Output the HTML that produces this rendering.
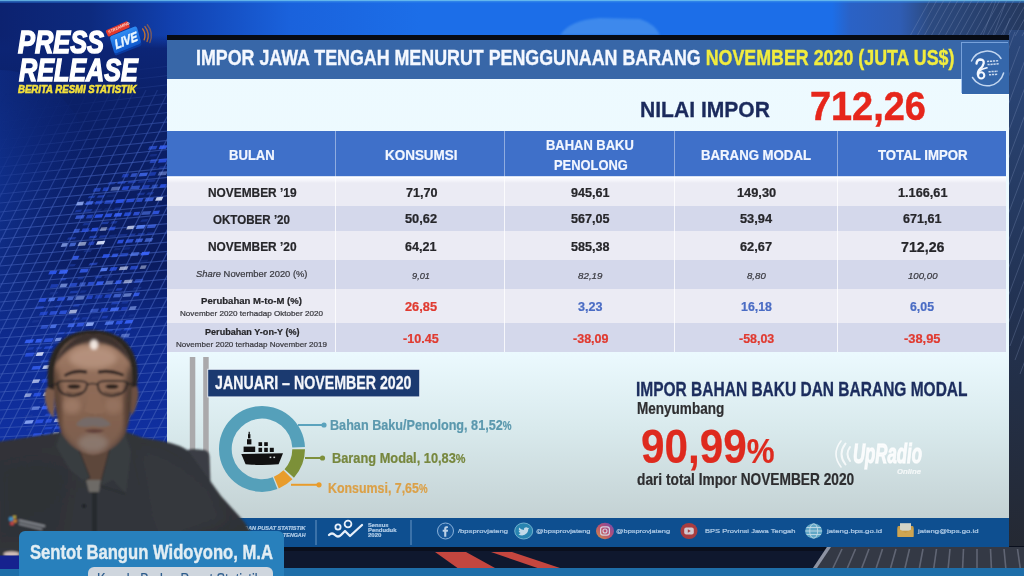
<!DOCTYPE html>
<html lang="id">
<head>
<meta charset="utf-8">
<title>Press Release BPS - Impor Jawa Tengah November 2020</title>
<style>
html,body{margin:0;padding:0}
body{width:1024px;height:576px;overflow:hidden;background:#0c2270;font-family:"Liberation Sans",sans-serif;position:relative}
#stage{position:absolute;left:0;top:0;width:1024px;height:576px;overflow:hidden}
.abs{position:absolute}
svg{position:absolute;left:0;top:0;overflow:visible}
.t{position:absolute;white-space:nowrap;line-height:1;font-weight:700;transform-origin:0 0;display:block;-webkit-text-stroke-width:.22px}
#fx{position:absolute;left:-8px;top:-8px;width:1040px;height:592px;filter:blur(.55px)}
#fxi{position:absolute;left:8px;top:8px;width:1024px;height:576px}
#bg{left:-8px;top:-8px;width:1040px;height:592px;background:linear-gradient(90deg,#0c2270 0,#0c2270 8px,#0d2a7e 98px,#1140ae 178px,#1a62dc 298px,#1c6ee8 428px,#1c6ee8 840px,#2a62c6 858px,#2f5db4 908px,#2c4a80 938px,#25395f 1032px)}
#slide{left:167px;top:35px;width:842px;height:512px;background:linear-gradient(180deg,#eefaff 0,#ebf9fe 318px,#d9eaed 392px,#c4d2d4 482px)}
#slide .topb{left:0;top:0;width:842px;height:5px;background:#070b14}
#slide .title{left:0;top:5px;width:842px;height:38.5px;background:#3867a8}
#slide .logo{left:794.7px;top:7.7px;width:47px;height:51px;background:#3567ab;box-shadow:-1px -1px 0 0 rgba(140,180,235,.75),0 1px 0 0 rgba(255,255,255,.5)}
.row{position:absolute;left:0;width:839px}
.hd{background:#3f70c9}
.r1{background:#ebebf4}
.r1f{background:linear-gradient(180deg,#fbfbfe 0,#f6f6fb 3px,#ebebf4 6px)}
.r2{background:#d4d8eb}
.vs{position:absolute;top:96px;width:1.1px;height:221px;background:linear-gradient(180deg,rgba(255,255,255,.42) 0,rgba(255,255,255,.42) 46px,rgba(255,255,255,.8) 46px)}
#foot{left:0;top:482.5px;width:842px;height:29.5px;background:#0e4f90}
#l3{left:18.5px;top:531.2px;width:265.5px;height:50px;background:#2880bc;border-radius:6px 6px 0 0}
#l3b{left:88px;top:567px;width:185px;height:20px;background:#cfd6de;border-radius:6px}

</style>
</head>
<body>
<div id="stage"><div id="fx"><div id="fxi">
<div id="bg" class="abs"></div>
<svg id="bgsvg" width="1024" height="576" viewBox="0 0 1024 576">
<defs>
<linearGradient id="gl" x1="0" y1="0" x2="0" y2="1"><stop offset="0" stop-color="#0b2170"/><stop offset=".18" stop-color="#0c2679"/><stop offset=".45" stop-color="#0f2f96"/><stop offset=".75" stop-color="#1233a8"/><stop offset="1" stop-color="#1336ae"/></linearGradient>
<linearGradient id="gfade" x1="0" y1="0" x2="1" y2="1"><stop offset="0" stop-color="#fff" stop-opacity="0"/><stop offset=".28" stop-color="#fff" stop-opacity="0"/><stop offset=".5" stop-color="#fff" stop-opacity="1"/></linearGradient>
<linearGradient id="gfade2" gradientUnits="userSpaceOnUse" x1="25" y1="80" x2="118" y2="228"><stop offset="0" stop-color="#fff" stop-opacity="0"/><stop offset=".28" stop-color="#fff" stop-opacity=".08"/><stop offset=".5" stop-color="#fff" stop-opacity=".55"/><stop offset=".7" stop-color="#fff" stop-opacity="1"/></linearGradient>
<mask id="gm" maskUnits="userSpaceOnUse" x="0" y="0" width="170" height="576"><rect x="0" y="60" width="170" height="520" fill="url(#gfade2)"/></mask>
<clipPath id="lc"><rect x="0" y="0" width="168" height="576"/></clipPath>
<linearGradient id="gr" x1="0" y1="0" x2="0" y2="1"><stop offset="0" stop-color="#2b487c"/><stop offset=".5" stop-color="#223252"/><stop offset="1" stop-color="#25282f"/></linearGradient>
<filter id="b1"><feGaussianBlur stdDeviation=".6"/></filter>
<filter id="b2"><feGaussianBlur stdDeviation="1.2"/></filter>
<filter id="b4"><feGaussianBlur stdDeviation="4"/></filter>
</defs>
<linearGradient id="gl2" x1="0" y1="0" x2="0" y2="1"><stop offset="0" stop-color="#0c2474" stop-opacity="0"/><stop offset=".025" stop-color="#0c2474" stop-opacity=".95"/><stop offset=".12" stop-color="#0b2068" stop-opacity="1"/><stop offset=".42" stop-color="#0a1b5e"/><stop offset=".55" stop-color="#0e2a8c"/><stop offset=".75" stop-color="#1030a2"/><stop offset="1" stop-color="#1030a2"/></linearGradient>
<radialGradient id="glow" cx="0" cy=".5" r="1"><stop offset="0" stop-color="#1746ba"/><stop offset=".45" stop-color="#12389e" stop-opacity=".8"/><stop offset="1" stop-color="#0e2c8c" stop-opacity="0"/></radialGradient>
<rect x="0" y="35" width="168" height="541" fill="url(#gl2)"/>
<ellipse cx="0" cy="200" rx="100" ry="130" fill="url(#glow)" opacity=".9"/>
<g clip-path="url(#lc)"><g mask="url(#gm)" stroke="#4260b8" stroke-width="1.15" stroke-opacity=".62" fill="none">
<line x1="0" y1="86.0" x2="170" y2="66.0"/>
<line x1="0" y1="95.0" x2="170" y2="75.3"/>
<line x1="0" y1="104.0" x2="170" y2="84.5"/>
<line x1="0" y1="113.0" x2="170" y2="93.8"/>
<line x1="0" y1="122.0" x2="170" y2="103.0"/>
<line x1="0" y1="131.0" x2="170" y2="112.3"/>
<line x1="0" y1="140.0" x2="170" y2="121.6"/>
<line x1="0" y1="149.0" x2="170" y2="130.8"/>
<line x1="0" y1="158.0" x2="170" y2="140.1"/>
<line x1="0" y1="167.0" x2="170" y2="149.3"/>
<line x1="0" y1="176.0" x2="170" y2="158.6"/>
<line x1="0" y1="185.0" x2="170" y2="167.9"/>
<line x1="0" y1="194.0" x2="170" y2="177.1"/>
<line x1="0" y1="203.0" x2="170" y2="186.4"/>
<line x1="0" y1="212.0" x2="170" y2="195.6"/>
<line x1="0" y1="221.0" x2="170" y2="204.9"/>
<line x1="0" y1="230.0" x2="170" y2="214.2"/>
<line x1="0" y1="239.0" x2="170" y2="223.4"/>
<line x1="0" y1="248.0" x2="170" y2="232.7"/>
<line x1="0" y1="257.0" x2="170" y2="241.9"/>
<line x1="0" y1="266.0" x2="170" y2="251.2"/>
<line x1="0" y1="275.0" x2="170" y2="260.5"/>
<line x1="0" y1="284.0" x2="170" y2="269.7"/>
<line x1="0" y1="293.0" x2="170" y2="279.0"/>
<line x1="0" y1="302.0" x2="170" y2="288.2"/>
<line x1="0" y1="311.0" x2="170" y2="297.5"/>
<line x1="0" y1="320.0" x2="170" y2="306.8"/>
<line x1="0" y1="329.0" x2="170" y2="316.0"/>
<line x1="0" y1="338.0" x2="170" y2="325.3"/>
<line x1="0" y1="347.0" x2="170" y2="334.5"/>
<line x1="0" y1="356.0" x2="170" y2="343.8"/>
<line x1="0" y1="365.0" x2="170" y2="353.1"/>
<line x1="0" y1="374.0" x2="170" y2="362.3"/>
<line x1="0" y1="383.0" x2="170" y2="371.6"/>
<line x1="0" y1="392.0" x2="170" y2="380.8"/>
<line x1="0" y1="401.0" x2="170" y2="390.1"/>
<line x1="0" y1="410.0" x2="170" y2="399.4"/>
<line x1="0" y1="419.0" x2="170" y2="408.6"/>
<line x1="0" y1="428.0" x2="170" y2="417.9"/>
<line x1="0" y1="437.0" x2="170" y2="427.1"/>
<line x1="0" y1="446.0" x2="170" y2="436.4"/>
<line x1="0" y1="455.0" x2="170" y2="445.7"/>
<line x1="0" y1="464.0" x2="170" y2="454.9"/>
<line x1="0" y1="473.0" x2="170" y2="464.2"/>
<line x1="0" y1="482.0" x2="170" y2="473.4"/>
<line x1="0" y1="491.0" x2="170" y2="482.7"/>
<line x1="0" y1="500.0" x2="170" y2="492.0"/>
<line x1="0" y1="509.0" x2="170" y2="501.2"/>
<line x1="0" y1="518.0" x2="170" y2="510.5"/>
<line x1="0" y1="527.0" x2="170" y2="519.7"/>
<line x1="0" y1="536.0" x2="170" y2="529.0"/>
<line x1="0" y1="545.0" x2="170" y2="538.3"/>
<line x1="0" y1="554.0" x2="170" y2="547.5"/>
<line x1="0" y1="563.0" x2="170" y2="556.8"/>
<line x1="0" y1="572.0" x2="170" y2="566.0"/>
<line x1="0" y1="581.0" x2="170" y2="575.3"/>
<line x1="0" y1="590.0" x2="170" y2="584.6"/>
<line x1="0" y1="599.0" x2="170" y2="593.8"/>
<line x1="-253.0" y1="560" x2="-15.0" y2="90"/>
<line x1="-241.5" y1="560" x2="-3.5" y2="90"/>
<line x1="-230.0" y1="560" x2="8.0" y2="90"/>
<line x1="-218.5" y1="560" x2="19.5" y2="90"/>
<line x1="-207.0" y1="560" x2="31.0" y2="90"/>
<line x1="-195.5" y1="560" x2="42.5" y2="90"/>
<line x1="-184.0" y1="560" x2="54.0" y2="90"/>
<line x1="-172.5" y1="560" x2="65.5" y2="90"/>
<line x1="-161.0" y1="560" x2="77.0" y2="90"/>
<line x1="-149.5" y1="560" x2="88.5" y2="90"/>
<line x1="-138.0" y1="560" x2="100.0" y2="90"/>
<line x1="-126.5" y1="560" x2="111.5" y2="90"/>
<line x1="-115.0" y1="560" x2="123.0" y2="90"/>
<line x1="-103.5" y1="560" x2="134.5" y2="90"/>
<line x1="-92.0" y1="560" x2="146.0" y2="90"/>
<line x1="-80.5" y1="560" x2="157.5" y2="90"/>
<line x1="-69.0" y1="560" x2="169.0" y2="90"/>
<line x1="-57.5" y1="560" x2="180.5" y2="90"/>
<line x1="-46.0" y1="560" x2="192.0" y2="90"/>
<line x1="-34.5" y1="560" x2="203.5" y2="90"/>
<line x1="-23.0" y1="560" x2="215.0" y2="90"/>
<line x1="-11.5" y1="560" x2="226.5" y2="90"/>
<line x1="0.0" y1="560" x2="238.0" y2="90"/>
<line x1="11.5" y1="560" x2="249.5" y2="90"/>
<line x1="23.0" y1="560" x2="261.0" y2="90"/>
<line x1="34.5" y1="560" x2="272.5" y2="90"/>
<line x1="46.0" y1="560" x2="284.0" y2="90"/>
<line x1="57.5" y1="560" x2="295.5" y2="90"/>
<line x1="69.0" y1="560" x2="307.0" y2="90"/>
<line x1="80.5" y1="560" x2="318.5" y2="90"/>
<line x1="92.0" y1="560" x2="330.0" y2="90"/>
<line x1="103.5" y1="560" x2="341.5" y2="90"/>
<line x1="115.0" y1="560" x2="353.0" y2="90"/>
<line x1="126.5" y1="560" x2="364.5" y2="90"/>
<line x1="138.0" y1="560" x2="376.0" y2="90"/>
<line x1="149.5" y1="560" x2="387.5" y2="90"/>
<line x1="161.0" y1="560" x2="399.0" y2="90"/>
<line x1="172.5" y1="560" x2="410.5" y2="90"/>
<line x1="184.0" y1="560" x2="422.0" y2="90"/>
<line x1="195.5" y1="560" x2="433.5" y2="90"/>
<line x1="207.0" y1="560" x2="445.0" y2="90"/>
<line x1="218.5" y1="560" x2="456.5" y2="90"/>
</g>
<g filter="url(#b1)">
<path d="M158.6 149.2 l7.4 -0.4 l1.6 -3.6 l-7.4 0.4 Z" fill="#3b66ff" opacity="0.81"/>
<path d="M148.0 149.8 l8.0 -0.5 l1.6 -3.6 l-8.0 0.5 Z" fill="#3b66ff" opacity="0.56"/>
<path d="M149.0 156.6 l7.1 -0.4 l1.6 -2.4 l-7.1 0.4 Z" fill="#2f58e0" opacity="0.25"/>
<path d="M157.9 162.7 l8.1 -0.5 l1.6 -3.6 l-8.1 0.5 Z" fill="#2f58f0" opacity="0.79"/>
<path d="M149.4 163.2 l5.9 -0.4 l1.6 -3.6 l-5.9 0.4 Z" fill="#3b66ff" opacity="0.51"/>
<path d="M158.2 169.0 l7.8 -0.5 l1.6 -2.4 l-7.8 0.5 Z" fill="#2f58e0" opacity="0.29"/>
<path d="M149.2 169.6 l6.4 -0.4 l1.6 -2.4 l-6.4 0.4 Z" fill="#24409e" opacity="0.38"/>
<path d="M157.6 175.4 l8.4 -0.5 l1.6 -3.6 l-8.4 0.5 Z" fill="#9db8ff" opacity="0.46"/>
<path d="M149.0 175.9 l6.0 -0.4 l1.6 -3.6 l-6.0 0.4 Z" fill="#2f58f0" opacity="0.48"/>
<path d="M138.5 176.5 l8.0 -0.5 l1.6 -3.6 l-8.0 0.5 Z" fill="#4a74ff" opacity="0.72"/>
<path d="M130.2 177.0 l5.7 -0.3 l1.6 -3.6 l-5.7 0.3 Z" fill="#4a74ff" opacity="0.59"/>
<path d="M121.5 177.6 l6.1 -0.4 l1.6 -3.6 l-6.1 0.4 Z" fill="#2f58f0" opacity="0.53"/>
<path d="M146.8 182.3 l7.7 -0.5 l1.6 -2.4 l-7.7 0.5 Z" fill="#3b66ff" opacity="0.25"/>
<path d="M137.6 182.9 l6.6 -0.4 l1.6 -2.4 l-6.6 0.4 Z" fill="#2f58e0" opacity="0.25"/>
<path d="M127.4 183.5 l7.6 -0.5 l1.6 -2.4 l-7.6 0.5 Z" fill="#2f58e0" opacity="0.49"/>
<path d="M117.0 184.1 l7.8 -0.5 l1.6 -2.4 l-7.8 0.5 Z" fill="#3b66ff" opacity="0.49"/>
<path d="M107.4 184.7 l7.0 -0.4 l1.6 -2.4 l-7.0 0.4 Z" fill="#3b66ff" opacity="0.31"/>
<path d="M159.2 187.8 l5.8 -0.3 l1.6 -3.6 l-5.8 0.3 Z" fill="#2f58f0" opacity="0.81"/>
<path d="M151.0 188.3 l5.6 -0.3 l1.6 -3.6 l-5.6 0.3 Z" fill="#4a74ff" opacity="0.49"/>
<path d="M141.4 188.9 l7.0 -0.4 l1.6 -3.6 l-7.0 0.4 Z" fill="#2f58f0" opacity="0.52"/>
<path d="M130.5 189.5 l8.3 -0.5 l1.6 -3.6 l-8.3 0.5 Z" fill="#4a74ff" opacity="0.59"/>
<path d="M121.5 190.1 l6.4 -0.4 l1.6 -3.6 l-6.4 0.4 Z" fill="#2f58f0" opacity="0.73"/>
<path d="M110.4 190.7 l8.5 -0.5 l1.6 -3.6 l-8.5 0.5 Z" fill="#9db8ff" opacity="0.47"/>
<path d="M102.2 191.2 l5.6 -0.3 l1.6 -3.6 l-5.6 0.3 Z" fill="#2f58f0" opacity="0.60"/>
<path d="M92.7 191.8 l6.9 -0.4 l1.6 -3.6 l-6.9 0.4 Z" fill="#3b66ff" opacity="0.48"/>
<path d="M146.3 194.8 l6.1 -0.4 l1.6 -2.4 l-6.1 0.4 Z" fill="#2f58e0" opacity="0.39"/>
<path d="M136.4 195.4 l7.4 -0.4 l1.6 -2.4 l-7.4 0.4 Z" fill="#3b66ff" opacity="0.28"/>
<path d="M106.1 197.2 l8.3 -0.5 l1.6 -2.4 l-8.3 0.5 Z" fill="#24409e" opacity="0.29"/>
<path d="M96.6 197.8 l6.9 -0.4 l1.6 -2.4 l-6.9 0.4 Z" fill="#3b66ff" opacity="0.43"/>
<path d="M87.7 198.3 l6.3 -0.4 l1.6 -2.4 l-6.3 0.4 Z" fill="#2f58e0" opacity="0.48"/>
<path d="M155.1 200.8 l6.6 -0.4 l1.6 -3.6 l-6.6 0.4 Z" fill="#dfe8ff" opacity="0.88"/>
<path d="M144.4 201.5 l8.1 -0.5 l1.6 -3.6 l-8.1 0.5 Z" fill="#4a74ff" opacity="0.67"/>
<path d="M136.1 202.0 l5.7 -0.3 l1.6 -3.6 l-5.7 0.3 Z" fill="#3b66ff" opacity="0.61"/>
<path d="M125.7 202.6 l7.8 -0.5 l1.6 -3.6 l-7.8 0.5 Z" fill="#2f58f0" opacity="0.77"/>
<path d="M115.1 203.2 l8.0 -0.5 l1.6 -3.6 l-8.0 0.5 Z" fill="#2f58f0" opacity="0.89"/>
<path d="M104.1 203.9 l8.4 -0.5 l1.6 -3.6 l-8.4 0.5 Z" fill="#3b66ff" opacity="0.53"/>
<path d="M94.6 204.5 l6.9 -0.4 l1.6 -3.6 l-6.9 0.4 Z" fill="#2f58f0" opacity="0.60"/>
<path d="M85.1 205.0 l6.9 -0.4 l1.6 -3.6 l-6.9 0.4 Z" fill="#4a74ff" opacity="0.74"/>
<path d="M76.0 205.6 l6.5 -0.4 l1.6 -3.6 l-6.5 0.4 Z" fill="#9db8ff" opacity="0.78"/>
<path d="M153.5 207.7 l6.6 -0.4 l1.6 -2.4 l-6.6 0.4 Z" fill="#24409e" opacity="0.47"/>
<path d="M113.5 210.1 l6.6 -0.4 l1.6 -2.4 l-6.6 0.4 Z" fill="#2f58e0" opacity="0.32"/>
<path d="M103.3 210.7 l7.7 -0.5 l1.6 -2.4 l-7.7 0.5 Z" fill="#24409e" opacity="0.29"/>
<path d="M93.6 211.3 l7.0 -0.4 l1.6 -2.4 l-7.0 0.4 Z" fill="#24409e" opacity="0.33"/>
<path d="M83.2 211.9 l7.8 -0.5 l1.6 -2.4 l-7.8 0.5 Z" fill="#2f58e0" opacity="0.43"/>
<path d="M74.5 212.4 l6.1 -0.4 l1.6 -2.4 l-6.1 0.4 Z" fill="#2f58e0" opacity="0.41"/>
<path d="M152.2 214.5 l6.2 -0.4 l1.6 -3.6 l-6.2 0.4 Z" fill="#3b66ff" opacity="0.73"/>
<path d="M141.2 215.1 l8.5 -0.5 l1.6 -3.6 l-8.5 0.5 Z" fill="#5d86ff" opacity="0.52"/>
<path d="M132.8 215.6 l5.8 -0.3 l1.6 -3.6 l-5.8 0.3 Z" fill="#3b66ff" opacity="0.67"/>
<path d="M123.4 216.2 l6.7 -0.4 l1.6 -3.6 l-6.7 0.4 Z" fill="#2f58f0" opacity="0.75"/>
<path d="M113.5 216.8 l7.3 -0.4 l1.6 -3.6 l-7.3 0.4 Z" fill="#3b66ff" opacity="0.86"/>
<path d="M104.4 217.3 l6.6 -0.4 l1.6 -3.6 l-6.6 0.4 Z" fill="#2f58f0" opacity="0.84"/>
<path d="M94.2 218.0 l7.6 -0.5 l1.6 -3.6 l-7.6 0.5 Z" fill="#2f58f0" opacity="0.88"/>
<path d="M85.8 218.5 l5.8 -0.3 l1.6 -3.6 l-5.8 0.3 Z" fill="#2f58f0" opacity="0.60"/>
<path d="M74.9 219.1 l8.4 -0.5 l1.6 -3.6 l-8.4 0.5 Z" fill="#4a74ff" opacity="0.64"/>
<path d="M140.2 221.9 l6.6 -0.4 l1.6 -2.4 l-6.6 0.4 Z" fill="#2f58e0" opacity="0.30"/>
<path d="M110.3 223.7 l5.8 -0.3 l1.6 -2.4 l-5.8 0.3 Z" fill="#2f58e0" opacity="0.40"/>
<path d="M101.2 224.3 l6.5 -0.4 l1.6 -2.4 l-6.5 0.4 Z" fill="#3b66ff" opacity="0.39"/>
<path d="M82.4 225.4 l6.4 -0.4 l1.6 -2.4 l-6.4 0.4 Z" fill="#2f58e0" opacity="0.34"/>
<path d="M146.6 228.3 l8.4 -0.5 l1.6 -3.6 l-8.4 0.5 Z" fill="#4a74ff" opacity="0.64"/>
<path d="M135.7 228.9 l8.3 -0.5 l1.6 -3.6 l-8.3 0.5 Z" fill="#5d86ff" opacity="0.87"/>
<path d="M126.2 229.5 l6.9 -0.4 l1.6 -3.6 l-6.9 0.4 Z" fill="#dfe8ff" opacity="0.73"/>
<path d="M108.4 230.6 l5.9 -0.4 l1.6 -3.6 l-5.9 0.4 Z" fill="#2f58f0" opacity="0.67"/>
<path d="M99.6 231.1 l6.2 -0.4 l1.6 -3.6 l-6.2 0.4 Z" fill="#dfe8ff" opacity="0.47"/>
<path d="M90.7 231.6 l6.3 -0.4 l1.6 -3.6 l-6.3 0.4 Z" fill="#2f58f0" opacity="0.89"/>
<path d="M81.1 232.2 l7.0 -0.4 l1.6 -3.6 l-7.0 0.4 Z" fill="#2f58f0" opacity="0.68"/>
<path d="M73.0 232.7 l5.5 -0.3 l1.6 -3.6 l-5.5 0.3 Z" fill="#4a74ff" opacity="0.58"/>
<path d="M146.1 235.0 l7.3 -0.4 l1.6 -2.4 l-7.3 0.4 Z" fill="#3b66ff" opacity="0.26"/>
<path d="M136.9 235.6 l6.6 -0.4 l1.6 -2.4 l-6.6 0.4 Z" fill="#2f58e0" opacity="0.40"/>
<path d="M128.8 236.1 l5.5 -0.3 l1.6 -2.4 l-5.5 0.3 Z" fill="#2f58e0" opacity="0.42"/>
<path d="M118.0 236.7 l8.2 -0.5 l1.6 -2.4 l-8.2 0.5 Z" fill="#3b66ff" opacity="0.25"/>
<path d="M108.2 237.3 l7.3 -0.4 l1.6 -2.4 l-7.3 0.4 Z" fill="#24409e" opacity="0.49"/>
<path d="M98.6 237.9 l6.9 -0.4 l1.6 -2.4 l-6.9 0.4 Z" fill="#3b66ff" opacity="0.35"/>
<path d="M88.5 238.5 l7.5 -0.5 l1.6 -2.4 l-7.5 0.5 Z" fill="#3b66ff" opacity="0.47"/>
<path d="M66.9 239.8 l8.0 -0.5 l1.6 -2.4 l-8.0 0.5 Z" fill="#3b66ff" opacity="0.36"/>
<path d="M144.3 241.9 l7.4 -0.4 l1.6 -3.6 l-7.4 0.4 Z" fill="#5d86ff" opacity="0.59"/>
<path d="M134.8 242.4 l6.9 -0.4 l1.6 -3.6 l-6.9 0.4 Z" fill="#4a74ff" opacity="0.67"/>
<path d="M125.1 243.0 l7.1 -0.4 l1.6 -3.6 l-7.1 0.4 Z" fill="#3b66ff" opacity="0.69"/>
<path d="M116.8 243.5 l5.7 -0.3 l1.6 -3.6 l-5.7 0.3 Z" fill="#2f58f0" opacity="0.82"/>
<path d="M96.0 244.8 l7.7 -0.5 l1.6 -3.6 l-7.7 0.5 Z" fill="#dfe8ff" opacity="0.90"/>
<path d="M87.8 245.3 l5.6 -0.3 l1.6 -3.6 l-5.6 0.3 Z" fill="#2f58f0" opacity="0.55"/>
<path d="M77.5 245.9 l7.6 -0.5 l1.6 -3.6 l-7.6 0.5 Z" fill="#dfe8ff" opacity="0.58"/>
<path d="M69.0 246.4 l5.9 -0.4 l1.6 -3.6 l-5.9 0.4 Z" fill="#5d86ff" opacity="0.64"/>
<path d="M60.7 246.9 l5.7 -0.3 l1.6 -3.6 l-5.7 0.3 Z" fill="#9db8ff" opacity="0.70"/>
<path d="M122.5 249.9 l6.7 -0.4 l1.6 -2.4 l-6.7 0.4 Z" fill="#2f58e0" opacity="0.25"/>
<path d="M113.4 250.5 l6.4 -0.4 l1.6 -2.4 l-6.4 0.4 Z" fill="#24409e" opacity="0.37"/>
<path d="M83.2 252.3 l7.4 -0.4 l1.6 -2.4 l-7.4 0.4 Z" fill="#24409e" opacity="0.48"/>
<path d="M140.5 255.6 l8.0 -0.5 l1.6 -3.6 l-8.0 0.5 Z" fill="#3b66ff" opacity="0.89"/>
<path d="M129.8 256.2 l8.1 -0.5 l1.6 -3.6 l-8.1 0.5 Z" fill="#5d86ff" opacity="0.63"/>
<path d="M119.5 256.8 l7.6 -0.5 l1.6 -3.6 l-7.6 0.5 Z" fill="#3b66ff" opacity="0.49"/>
<path d="M111.2 257.3 l5.8 -0.3 l1.6 -3.6 l-5.8 0.3 Z" fill="#3b66ff" opacity="0.72"/>
<path d="M101.9 257.9 l6.7 -0.4 l1.6 -3.6 l-6.7 0.4 Z" fill="#2f58f0" opacity="0.88"/>
<path d="M71.8 259.7 l6.0 -0.4 l1.6 -3.6 l-6.0 0.4 Z" fill="#3b66ff" opacity="0.76"/>
<path d="M138.6 262.4 l8.2 -0.5 l1.6 -2.4 l-8.2 0.5 Z" fill="#24409e" opacity="0.30"/>
<path d="M88.4 265.4 l8.0 -0.5 l1.6 -2.4 l-8.0 0.5 Z" fill="#3b66ff" opacity="0.45"/>
<path d="M68.8 266.6 l5.6 -0.3 l1.6 -2.4 l-5.6 0.3 Z" fill="#2f58e0" opacity="0.30"/>
<path d="M139.6 269.1 l5.6 -0.3 l1.6 -3.6 l-5.6 0.3 Z" fill="#dfe8ff" opacity="0.47"/>
<path d="M129.5 269.7 l7.5 -0.4 l1.6 -3.6 l-7.5 0.4 Z" fill="#2f58f0" opacity="0.64"/>
<path d="M118.7 270.3 l8.2 -0.5 l1.6 -3.6 l-8.2 0.5 Z" fill="#dfe8ff" opacity="0.64"/>
<path d="M109.2 270.9 l6.9 -0.4 l1.6 -3.6 l-6.9 0.4 Z" fill="#2f58f0" opacity="0.74"/>
<path d="M100.0 271.5 l6.6 -0.4 l1.6 -3.6 l-6.6 0.4 Z" fill="#5d86ff" opacity="0.85"/>
<path d="M79.3 272.7 l8.0 -0.5 l1.6 -3.6 l-8.0 0.5 Z" fill="#3b66ff" opacity="0.75"/>
<path d="M58.5 273.9 l8.3 -0.5 l1.6 -3.6 l-8.3 0.5 Z" fill="#3b66ff" opacity="0.87"/>
<path d="M48.3 274.6 l7.5 -0.5 l1.6 -3.6 l-7.5 0.5 Z" fill="#2f58f0" opacity="0.88"/>
<path d="M103.7 278.0 l7.6 -0.5 l1.6 -2.4 l-7.6 0.5 Z" fill="#24409e" opacity="0.41"/>
<path d="M94.3 278.5 l6.7 -0.4 l1.6 -2.4 l-6.7 0.4 Z" fill="#3b66ff" opacity="0.34"/>
<path d="M77.0 279.6 l5.7 -0.3 l1.6 -2.4 l-5.7 0.3 Z" fill="#2f58e0" opacity="0.37"/>
<path d="M59.7 280.6 l5.6 -0.3 l1.6 -2.4 l-5.6 0.3 Z" fill="#3b66ff" opacity="0.43"/>
<path d="M134.0 282.9 l7.8 -0.5 l1.6 -3.6 l-7.8 0.5 Z" fill="#4a74ff" opacity="0.47"/>
<path d="M123.1 283.5 l8.3 -0.5 l1.6 -3.6 l-8.3 0.5 Z" fill="#dfe8ff" opacity="0.56"/>
<path d="M114.7 284.0 l5.8 -0.3 l1.6 -3.6 l-5.8 0.3 Z" fill="#3b66ff" opacity="0.76"/>
<path d="M105.1 284.6 l7.0 -0.4 l1.6 -3.6 l-7.0 0.4 Z" fill="#9db8ff" opacity="0.47"/>
<path d="M95.7 285.2 l6.8 -0.4 l1.6 -3.6 l-6.8 0.4 Z" fill="#3b66ff" opacity="0.84"/>
<path d="M87.0 285.7 l6.0 -0.4 l1.6 -3.6 l-6.0 0.4 Z" fill="#3b66ff" opacity="0.63"/>
<path d="M78.7 286.2 l5.8 -0.3 l1.6 -3.6 l-5.8 0.3 Z" fill="#5d86ff" opacity="0.50"/>
<path d="M68.8 286.8 l7.3 -0.4 l1.6 -3.6 l-7.3 0.4 Z" fill="#3b66ff" opacity="0.55"/>
<path d="M59.4 287.4 l6.8 -0.4 l1.6 -3.6 l-6.8 0.4 Z" fill="#9db8ff" opacity="0.64"/>
<path d="M49.7 287.9 l7.1 -0.4 l1.6 -3.6 l-7.1 0.4 Z" fill="#2f58f0" opacity="0.46"/>
<path d="M132.6 289.7 l7.6 -0.5 l1.6 -2.4 l-7.6 0.5 Z" fill="#24409e" opacity="0.50"/>
<path d="M115.4 290.7 l5.8 -0.3 l1.6 -2.4 l-5.8 0.3 Z" fill="#3b66ff" opacity="0.45"/>
<path d="M106.9 291.2 l5.9 -0.4 l1.6 -2.4 l-5.9 0.4 Z" fill="#24409e" opacity="0.37"/>
<path d="M79.6 292.9 l5.7 -0.3 l1.6 -2.4 l-5.7 0.3 Z" fill="#2f58e0" opacity="0.26"/>
<path d="M69.2 293.5 l7.9 -0.5 l1.6 -2.4 l-7.9 0.5 Z" fill="#2f58e0" opacity="0.47"/>
<path d="M49.0 294.7 l7.8 -0.5 l1.6 -2.4 l-7.8 0.5 Z" fill="#24409e" opacity="0.47"/>
<path d="M132.9 296.4 l5.6 -0.3 l1.6 -3.6 l-5.6 0.3 Z" fill="#3b66ff" opacity="0.76"/>
<path d="M122.7 297.0 l7.7 -0.5 l1.6 -3.6 l-7.7 0.5 Z" fill="#9db8ff" opacity="0.57"/>
<path d="M112.9 297.6 l7.2 -0.4 l1.6 -3.6 l-7.2 0.4 Z" fill="#5d86ff" opacity="0.59"/>
<path d="M104.0 298.1 l6.3 -0.4 l1.6 -3.6 l-6.3 0.4 Z" fill="#2f58f0" opacity="0.58"/>
<path d="M94.3 298.7 l7.1 -0.4 l1.6 -3.6 l-7.1 0.4 Z" fill="#2f58f0" opacity="0.46"/>
<path d="M86.0 299.2 l5.7 -0.3 l1.6 -3.6 l-5.7 0.3 Z" fill="#2f58f0" opacity="0.61"/>
<path d="M75.1 299.9 l8.3 -0.5 l1.6 -3.6 l-8.3 0.5 Z" fill="#9db8ff" opacity="0.55"/>
<path d="M66.6 300.4 l5.9 -0.4 l1.6 -3.6 l-5.9 0.4 Z" fill="#5d86ff" opacity="0.61"/>
<path d="M56.7 301.0 l7.3 -0.4 l1.6 -3.6 l-7.3 0.4 Z" fill="#2f58f0" opacity="0.78"/>
<path d="M47.8 301.5 l6.3 -0.4 l1.6 -3.6 l-6.3 0.4 Z" fill="#5d86ff" opacity="0.73"/>
<path d="M38.4 302.1 l6.8 -0.4 l1.6 -3.6 l-6.8 0.4 Z" fill="#2f58f0" opacity="0.81"/>
<path d="M121.2 303.8 l6.2 -0.4 l1.6 -2.4 l-6.2 0.4 Z" fill="#2f58e0" opacity="0.29"/>
<path d="M110.8 304.5 l7.8 -0.5 l1.6 -2.4 l-7.8 0.5 Z" fill="#3b66ff" opacity="0.38"/>
<path d="M81.3 306.2 l5.7 -0.3 l1.6 -2.4 l-5.7 0.3 Z" fill="#24409e" opacity="0.26"/>
<path d="M72.5 306.8 l6.2 -0.4 l1.6 -2.4 l-6.2 0.4 Z" fill="#3b66ff" opacity="0.34"/>
<path d="M54.6 307.8 l6.1 -0.4 l1.6 -2.4 l-6.1 0.4 Z" fill="#2f58e0" opacity="0.34"/>
<path d="M45.4 308.4 l6.6 -0.4 l1.6 -2.4 l-6.6 0.4 Z" fill="#24409e" opacity="0.45"/>
<path d="M34.8 309.0 l8.0 -0.5 l1.6 -2.4 l-8.0 0.5 Z" fill="#3b66ff" opacity="0.40"/>
<path d="M128.7 310.1 l6.5 -0.4 l1.6 -3.6 l-6.5 0.4 Z" fill="#9db8ff" opacity="0.56"/>
<path d="M120.5 310.6 l5.6 -0.3 l1.6 -3.6 l-5.6 0.3 Z" fill="#2f58f0" opacity="0.49"/>
<path d="M109.7 311.3 l8.2 -0.5 l1.6 -3.6 l-8.2 0.5 Z" fill="#4a74ff" opacity="0.81"/>
<path d="M100.1 311.8 l6.9 -0.4 l1.6 -3.6 l-6.9 0.4 Z" fill="#2f58f0" opacity="0.69"/>
<path d="M89.6 312.5 l7.9 -0.5 l1.6 -3.6 l-7.9 0.5 Z" fill="#5d86ff" opacity="0.45"/>
<path d="M68.5 313.7 l7.5 -0.5 l1.6 -3.6 l-7.5 0.5 Z" fill="#dfe8ff" opacity="0.68"/>
<path d="M58.8 314.3 l7.1 -0.4 l1.6 -3.6 l-7.1 0.4 Z" fill="#3b66ff" opacity="0.65"/>
<path d="M49.1 314.9 l7.1 -0.4 l1.6 -3.6 l-7.1 0.4 Z" fill="#3b66ff" opacity="0.61"/>
<path d="M39.0 315.5 l7.5 -0.5 l1.6 -3.6 l-7.5 0.5 Z" fill="#2f58f0" opacity="0.58"/>
<path d="M128.0 316.9 l5.6 -0.3 l1.6 -2.4 l-5.6 0.3 Z" fill="#24409e" opacity="0.40"/>
<path d="M118.6 317.4 l6.7 -0.4 l1.6 -2.4 l-6.7 0.4 Z" fill="#24409e" opacity="0.25"/>
<path d="M101.1 318.5 l5.8 -0.3 l1.6 -2.4 l-5.8 0.3 Z" fill="#3b66ff" opacity="0.33"/>
<path d="M90.9 319.1 l7.6 -0.5 l1.6 -2.4 l-7.6 0.5 Z" fill="#24409e" opacity="0.43"/>
<path d="M81.1 319.7 l7.2 -0.4 l1.6 -2.4 l-7.2 0.4 Z" fill="#2f58e0" opacity="0.27"/>
<path d="M72.3 320.2 l6.2 -0.4 l1.6 -2.4 l-6.2 0.4 Z" fill="#3b66ff" opacity="0.39"/>
<path d="M61.3 320.9 l8.4 -0.5 l1.6 -2.4 l-8.4 0.5 Z" fill="#24409e" opacity="0.34"/>
<path d="M31.6 322.7 l6.5 -0.4 l1.6 -2.4 l-6.5 0.4 Z" fill="#24409e" opacity="0.47"/>
<path d="M124.3 323.8 l7.6 -0.5 l1.6 -3.6 l-7.6 0.5 Z" fill="#3b66ff" opacity="0.85"/>
<path d="M115.3 324.4 l6.4 -0.4 l1.6 -3.6 l-6.4 0.4 Z" fill="#2f58f0" opacity="0.81"/>
<path d="M104.5 325.0 l8.2 -0.5 l1.6 -3.6 l-8.2 0.5 Z" fill="#5d86ff" opacity="0.73"/>
<path d="M85.5 326.2 l7.2 -0.4 l1.6 -3.6 l-7.2 0.4 Z" fill="#9db8ff" opacity="0.85"/>
<path d="M76.2 326.7 l6.8 -0.4 l1.6 -3.6 l-6.8 0.4 Z" fill="#3b66ff" opacity="0.69"/>
<path d="M67.2 327.3 l6.4 -0.4 l1.6 -3.6 l-6.4 0.4 Z" fill="#4a74ff" opacity="0.72"/>
<path d="M49.6 328.3 l5.8 -0.4 l1.6 -3.6 l-5.8 0.4 Z" fill="#5d86ff" opacity="0.72"/>
<path d="M40.2 328.9 l6.8 -0.4 l1.6 -3.6 l-6.8 0.4 Z" fill="#4a74ff" opacity="0.50"/>
<path d="M123.3 330.6 l7.0 -0.4 l1.6 -2.4 l-7.0 0.4 Z" fill="#3b66ff" opacity="0.49"/>
<path d="M114.6 331.1 l6.1 -0.4 l1.6 -2.4 l-6.1 0.4 Z" fill="#2f58e0" opacity="0.35"/>
<path d="M103.8 331.8 l8.2 -0.5 l1.6 -2.4 l-8.2 0.5 Z" fill="#2f58e0" opacity="0.45"/>
<path d="M95.7 332.3 l5.5 -0.3 l1.6 -2.4 l-5.5 0.3 Z" fill="#3b66ff" opacity="0.28"/>
<path d="M87.2 332.8 l6.0 -0.4 l1.6 -2.4 l-6.0 0.4 Z" fill="#3b66ff" opacity="0.28"/>
<path d="M76.9 333.4 l7.7 -0.5 l1.6 -2.4 l-7.7 0.5 Z" fill="#24409e" opacity="0.45"/>
<path d="M66.1 334.1 l8.2 -0.5 l1.6 -2.4 l-8.2 0.5 Z" fill="#2f58e0" opacity="0.40"/>
<path d="M56.9 334.6 l6.6 -0.4 l1.6 -2.4 l-6.6 0.4 Z" fill="#3b66ff" opacity="0.30"/>
<path d="M47.7 335.2 l6.6 -0.4 l1.6 -2.4 l-6.6 0.4 Z" fill="#24409e" opacity="0.42"/>
<path d="M26.0 336.5 l8.3 -0.5 l1.6 -2.4 l-8.3 0.5 Z" fill="#24409e" opacity="0.25"/>
<path d="M120.2 337.5 l8.4 -0.5 l1.6 -3.6 l-8.4 0.5 Z" fill="#9db8ff" opacity="0.45"/>
<path d="M109.2 338.2 l8.4 -0.5 l1.6 -3.6 l-8.4 0.5 Z" fill="#2f58f0" opacity="0.48"/>
<path d="M101.1 338.7 l5.5 -0.3 l1.6 -3.6 l-5.5 0.3 Z" fill="#3b66ff" opacity="0.90"/>
<path d="M90.2 339.3 l8.3 -0.5 l1.6 -3.6 l-8.3 0.5 Z" fill="#dfe8ff" opacity="0.58"/>
<path d="M80.2 339.9 l7.4 -0.4 l1.6 -3.6 l-7.4 0.4 Z" fill="#2f58f0" opacity="0.49"/>
<path d="M71.2 340.5 l6.4 -0.4 l1.6 -3.6 l-6.4 0.4 Z" fill="#9db8ff" opacity="0.83"/>
<path d="M62.9 341.0 l5.7 -0.3 l1.6 -3.6 l-5.7 0.3 Z" fill="#2f58f0" opacity="0.56"/>
<path d="M54.4 341.5 l5.9 -0.4 l1.6 -3.6 l-5.9 0.4 Z" fill="#9db8ff" opacity="0.70"/>
<path d="M43.4 342.2 l8.5 -0.5 l1.6 -3.6 l-8.5 0.5 Z" fill="#3b66ff" opacity="0.62"/>
<path d="M35.0 342.7 l5.8 -0.3 l1.6 -3.6 l-5.8 0.3 Z" fill="#3b66ff" opacity="0.81"/>
<path d="M24.4 343.3 l8.0 -0.5 l1.6 -3.6 l-8.0 0.5 Z" fill="#3b66ff" opacity="0.81"/>
<path d="M120.7 344.2 l6.3 -0.4 l1.6 -2.4 l-6.3 0.4 Z" fill="#24409e" opacity="0.35"/>
<path d="M112.3 344.7 l5.7 -0.3 l1.6 -2.4 l-5.7 0.3 Z" fill="#3b66ff" opacity="0.30"/>
<path d="M104.2 345.2 l5.5 -0.3 l1.6 -2.4 l-5.5 0.3 Z" fill="#24409e" opacity="0.49"/>
<path d="M93.2 345.9 l8.4 -0.5 l1.6 -2.4 l-8.4 0.5 Z" fill="#2f58e0" opacity="0.38"/>
<path d="M84.7 346.4 l6.0 -0.4 l1.6 -2.4 l-6.0 0.4 Z" fill="#24409e" opacity="0.38"/>
<path d="M73.7 347.1 l8.3 -0.5 l1.6 -2.4 l-8.3 0.5 Z" fill="#24409e" opacity="0.40"/>
<path d="M43.6 348.9 l8.1 -0.5 l1.6 -2.4 l-8.1 0.5 Z" fill="#3b66ff" opacity="0.48"/>
<path d="M35.5 349.4 l5.5 -0.3 l1.6 -2.4 l-5.5 0.3 Z" fill="#3b66ff" opacity="0.29"/>
<path d="M26.9 349.9 l5.9 -0.4 l1.6 -2.4 l-5.9 0.4 Z" fill="#2f58e0" opacity="0.36"/>
<path d="M118.5 351.1 l6.8 -0.4 l1.6 -3.6 l-6.8 0.4 Z" fill="#2f58f0" opacity="0.66"/>
<path d="M110.4 351.6 l5.5 -0.3 l1.6 -3.6 l-5.5 0.3 Z" fill="#dfe8ff" opacity="0.80"/>
<path d="M102.1 352.1 l5.7 -0.3 l1.6 -3.6 l-5.7 0.3 Z" fill="#9db8ff" opacity="0.47"/>
<path d="M91.3 352.7 l8.2 -0.5 l1.6 -3.6 l-8.2 0.5 Z" fill="#dfe8ff" opacity="0.46"/>
<path d="M80.3 353.4 l8.4 -0.5 l1.6 -3.6 l-8.4 0.5 Z" fill="#3b66ff" opacity="0.51"/>
<path d="M72.0 353.9 l5.7 -0.3 l1.6 -3.6 l-5.7 0.3 Z" fill="#3b66ff" opacity="0.73"/>
<path d="M63.4 354.4 l6.1 -0.4 l1.6 -3.6 l-6.1 0.4 Z" fill="#4a74ff" opacity="0.57"/>
<path d="M54.3 355.0 l6.5 -0.4 l1.6 -3.6 l-6.5 0.4 Z" fill="#2f58f0" opacity="0.58"/>
<path d="M35.6 356.1 l6.7 -0.4 l1.6 -3.6 l-6.7 0.4 Z" fill="#dfe8ff" opacity="0.86"/>
<path d="M24.6 356.7 l8.4 -0.5 l1.6 -3.6 l-8.4 0.5 Z" fill="#2f58f0" opacity="0.71"/>
<path d="M88.7 359.6 l6.2 -0.4 l1.6 -2.4 l-6.2 0.4 Z" fill="#3b66ff" opacity="0.31"/>
<path d="M80.5 360.1 l5.7 -0.3 l1.6 -2.4 l-5.7 0.3 Z" fill="#3b66ff" opacity="0.26"/>
<path d="M69.7 360.8 l8.2 -0.5 l1.6 -2.4 l-8.2 0.5 Z" fill="#3b66ff" opacity="0.39"/>
<path d="M60.3 361.3 l6.9 -0.4 l1.6 -2.4 l-6.9 0.4 Z" fill="#3b66ff" opacity="0.48"/>
<path d="M40.2 362.5 l7.2 -0.4 l1.6 -2.4 l-7.2 0.4 Z" fill="#3b66ff" opacity="0.35"/>
<path d="M115.1 364.8 l6.8 -0.4 l1.6 -3.6 l-6.8 0.4 Z" fill="#9db8ff" opacity="0.69"/>
<path d="M106.7 365.3 l5.8 -0.3 l1.6 -3.6 l-5.8 0.3 Z" fill="#4a74ff" opacity="0.82"/>
<path d="M96.1 365.9 l8.0 -0.5 l1.6 -3.6 l-8.0 0.5 Z" fill="#dfe8ff" opacity="0.61"/>
<path d="M88.0 366.4 l5.5 -0.3 l1.6 -3.6 l-5.5 0.3 Z" fill="#3b66ff" opacity="0.71"/>
<path d="M70.2 367.5 l6.5 -0.4 l1.6 -3.6 l-6.5 0.4 Z" fill="#2f58f0" opacity="0.89"/>
<path d="M59.7 368.1 l7.9 -0.5 l1.6 -3.6 l-7.9 0.5 Z" fill="#2f58f0" opacity="0.51"/>
<path d="M50.8 368.6 l6.3 -0.4 l1.6 -3.6 l-6.3 0.4 Z" fill="#9db8ff" opacity="0.73"/>
<path d="M42.2 369.1 l6.0 -0.4 l1.6 -3.6 l-6.0 0.4 Z" fill="#dfe8ff" opacity="0.77"/>
<path d="M31.3 369.8 l8.2 -0.5 l1.6 -3.6 l-8.2 0.5 Z" fill="#3b66ff" opacity="0.72"/>
<path d="M112.7 371.6 l7.6 -0.5 l1.6 -2.4 l-7.6 0.5 Z" fill="#24409e" opacity="0.42"/>
<path d="M104.5 372.1 l5.6 -0.3 l1.6 -2.4 l-5.6 0.3 Z" fill="#24409e" opacity="0.28"/>
<path d="M84.6 373.3 l7.2 -0.4 l1.6 -2.4 l-7.2 0.4 Z" fill="#24409e" opacity="0.42"/>
<path d="M76.3 373.8 l5.7 -0.3 l1.6 -2.4 l-5.7 0.3 Z" fill="#2f58e0" opacity="0.27"/>
<path d="M56.0 375.0 l7.1 -0.4 l1.6 -2.4 l-7.1 0.4 Z" fill="#24409e" opacity="0.46"/>
<path d="M112.0 378.4 l6.6 -0.4 l1.6 -3.6 l-6.6 0.4 Z" fill="#4a74ff" opacity="0.87"/>
<path d="M101.1 379.1 l8.3 -0.5 l1.6 -3.6 l-8.3 0.5 Z" fill="#4a74ff" opacity="0.49"/>
<path d="M90.0 379.7 l8.5 -0.5 l1.6 -3.6 l-8.5 0.5 Z" fill="#9db8ff" opacity="0.65"/>
<path d="M81.4 380.3 l6.0 -0.4 l1.6 -3.6 l-6.0 0.4 Z" fill="#dfe8ff" opacity="0.67"/>
<path d="M70.5 380.9 l8.3 -0.5 l1.6 -3.6 l-8.3 0.5 Z" fill="#9db8ff" opacity="0.46"/>
<path d="M61.6 381.4 l6.3 -0.4 l1.6 -3.6 l-6.3 0.4 Z" fill="#3b66ff" opacity="0.69"/>
<path d="M51.8 382.0 l7.2 -0.4 l1.6 -3.6 l-7.2 0.4 Z" fill="#2f58f0" opacity="0.64"/>
<path d="M41.2 382.7 l8.0 -0.5 l1.6 -3.6 l-8.0 0.5 Z" fill="#2f58f0" opacity="0.50"/>
<path d="M31.8 383.2 l6.8 -0.4 l1.6 -3.6 l-6.8 0.4 Z" fill="#dfe8ff" opacity="0.68"/>
<path d="M100.4 385.8 l5.8 -0.3 l1.6 -2.4 l-5.8 0.3 Z" fill="#24409e" opacity="0.46"/>
<path d="M91.7 386.4 l6.0 -0.4 l1.6 -2.4 l-6.0 0.4 Z" fill="#2f58e0" opacity="0.39"/>
<path d="M81.7 387.0 l7.4 -0.4 l1.6 -2.4 l-7.4 0.4 Z" fill="#3b66ff" opacity="0.32"/>
<path d="M71.1 387.6 l8.1 -0.5 l1.6 -2.4 l-8.1 0.5 Z" fill="#3b66ff" opacity="0.33"/>
<path d="M29.0 390.1 l8.3 -0.5 l1.6 -2.4 l-8.3 0.5 Z" fill="#24409e" opacity="0.47"/>
<path d="M107.9 392.1 l7.5 -0.4 l1.6 -3.6 l-7.5 0.4 Z" fill="#4a74ff" opacity="0.60"/>
<path d="M97.0 392.8 l8.3 -0.5 l1.6 -3.6 l-8.3 0.5 Z" fill="#3b66ff" opacity="0.50"/>
<path d="M88.5 393.3 l5.8 -0.4 l1.6 -3.6 l-5.8 0.4 Z" fill="#9db8ff" opacity="0.49"/>
<path d="M79.1 393.9 l6.8 -0.4 l1.6 -3.6 l-6.8 0.4 Z" fill="#9db8ff" opacity="0.70"/>
<path d="M70.9 394.3 l5.6 -0.3 l1.6 -3.6 l-5.6 0.3 Z" fill="#5d86ff" opacity="0.89"/>
<path d="M61.6 394.9 l6.6 -0.4 l1.6 -3.6 l-6.6 0.4 Z" fill="#4a74ff" opacity="0.86"/>
<path d="M50.9 395.5 l8.1 -0.5 l1.6 -3.6 l-8.1 0.5 Z" fill="#2f58f0" opacity="0.48"/>
<path d="M42.6 396.0 l5.7 -0.3 l1.6 -3.6 l-5.7 0.3 Z" fill="#dfe8ff" opacity="0.66"/>
<path d="M32.9 396.6 l7.2 -0.4 l1.6 -3.6 l-7.2 0.4 Z" fill="#2f58f0" opacity="0.74"/>
<path d="M23.9 397.2 l6.4 -0.4 l1.6 -3.6 l-6.4 0.4 Z" fill="#dfe8ff" opacity="0.57"/>
<path d="M106.8 398.9 l6.9 -0.4 l1.6 -2.4 l-6.9 0.4 Z" fill="#3b66ff" opacity="0.44"/>
<path d="M76.9 400.7 l6.8 -0.4 l1.6 -2.4 l-6.8 0.4 Z" fill="#2f58e0" opacity="0.46"/>
<path d="M66.4 401.3 l7.9 -0.5 l1.6 -2.4 l-7.9 0.5 Z" fill="#3b66ff" opacity="0.32"/>
<path d="M56.4 401.9 l7.4 -0.4 l1.6 -2.4 l-7.4 0.4 Z" fill="#24409e" opacity="0.39"/>
<path d="M47.9 402.5 l5.9 -0.4 l1.6 -2.4 l-5.9 0.4 Z" fill="#24409e" opacity="0.33"/>
<path d="M38.4 403.0 l6.9 -0.4 l1.6 -2.4 l-6.9 0.4 Z" fill="#24409e" opacity="0.47"/>
<path d="M106.1 405.7 l5.9 -0.4 l1.6 -3.6 l-5.9 0.4 Z" fill="#3b66ff" opacity="0.79"/>
<path d="M98.0 406.2 l5.5 -0.3 l1.6 -3.6 l-5.5 0.3 Z" fill="#9db8ff" opacity="0.59"/>
<path d="M88.0 406.8 l7.5 -0.4 l1.6 -3.6 l-7.5 0.4 Z" fill="#dfe8ff" opacity="0.83"/>
<path d="M78.8 407.3 l6.5 -0.4 l1.6 -3.6 l-6.5 0.4 Z" fill="#3b66ff" opacity="0.68"/>
<path d="M70.3 407.8 l6.0 -0.4 l1.6 -3.6 l-6.0 0.4 Z" fill="#dfe8ff" opacity="0.45"/>
<path d="M59.8 408.5 l7.8 -0.5 l1.6 -3.6 l-7.8 0.5 Z" fill="#3b66ff" opacity="0.47"/>
<path d="M41.2 409.6 l6.1 -0.4 l1.6 -3.6 l-6.1 0.4 Z" fill="#3b66ff" opacity="0.83"/>
<path d="M31.1 410.2 l7.5 -0.4 l1.6 -3.6 l-7.5 0.4 Z" fill="#9db8ff" opacity="0.50"/>
<path d="M82.6 413.8 l7.3 -0.4 l1.6 -2.4 l-7.3 0.4 Z" fill="#24409e" opacity="0.36"/>
<path d="M72.3 414.5 l7.7 -0.5 l1.6 -2.4 l-7.7 0.5 Z" fill="#2f58e0" opacity="0.38"/>
<path d="M55.2 415.5 l5.5 -0.3 l1.6 -2.4 l-5.5 0.3 Z" fill="#3b66ff" opacity="0.28"/>
<path d="M44.4 416.1 l8.2 -0.5 l1.6 -2.4 l-8.2 0.5 Z" fill="#3b66ff" opacity="0.37"/>
<path d="M23.9 417.4 l7.9 -0.5 l1.6 -2.4 l-7.9 0.5 Z" fill="#24409e" opacity="0.41"/>
<path d="M100.3 419.5 l8.5 -0.5 l1.6 -3.6 l-8.5 0.5 Z" fill="#4a74ff" opacity="0.48"/>
<path d="M91.5 420.0 l6.1 -0.4 l1.6 -3.6 l-6.1 0.4 Z" fill="#5d86ff" opacity="0.85"/>
<path d="M73.0 421.1 l6.8 -0.4 l1.6 -3.6 l-6.8 0.4 Z" fill="#9db8ff" opacity="0.78"/>
<path d="M63.7 421.7 l6.7 -0.4 l1.6 -3.6 l-6.7 0.4 Z" fill="#9db8ff" opacity="0.50"/>
<path d="M53.6 422.3 l7.6 -0.5 l1.6 -3.6 l-7.6 0.5 Z" fill="#dfe8ff" opacity="0.63"/>
<path d="M45.0 422.8 l5.9 -0.4 l1.6 -3.6 l-5.9 0.4 Z" fill="#3b66ff" opacity="0.57"/>
<path d="M34.8 423.4 l7.6 -0.5 l1.6 -3.6 l-7.6 0.5 Z" fill="#2f58f0" opacity="0.76"/>
<path d="M24.1 424.1 l8.1 -0.5 l1.6 -3.6 l-8.1 0.5 Z" fill="#9db8ff" opacity="0.81"/>
<path d="M101.0 426.2 l6.1 -0.4 l1.6 -2.4 l-6.1 0.4 Z" fill="#2f58e0" opacity="0.43"/>
<path d="M92.3 426.7 l6.1 -0.4 l1.6 -2.4 l-6.1 0.4 Z" fill="#3b66ff" opacity="0.46"/>
<path d="M82.3 427.3 l7.4 -0.4 l1.6 -2.4 l-7.4 0.4 Z" fill="#2f58e0" opacity="0.36"/>
<path d="M62.2 428.5 l7.1 -0.4 l1.6 -2.4 l-7.1 0.4 Z" fill="#24409e" opacity="0.49"/>
<path d="M54.0 429.0 l5.5 -0.3 l1.6 -2.4 l-5.5 0.3 Z" fill="#3b66ff" opacity="0.49"/>
<path d="M43.8 429.6 l7.7 -0.5 l1.6 -2.4 l-7.7 0.5 Z" fill="#3b66ff" opacity="0.37"/>
<path d="M25.3 430.7 l7.3 -0.4 l1.6 -2.4 l-7.3 0.4 Z" fill="#24409e" opacity="0.37"/>
<path d="M99.2 433.0 l6.2 -0.4 l1.6 -3.6 l-6.2 0.4 Z" fill="#2f58f0" opacity="0.82"/>
<path d="M88.8 433.7 l7.8 -0.5 l1.6 -3.6 l-7.8 0.5 Z" fill="#4a74ff" opacity="0.49"/>
<path d="M80.4 434.2 l5.8 -0.3 l1.6 -3.6 l-5.8 0.3 Z" fill="#4a74ff" opacity="0.63"/>
<path d="M71.3 434.7 l6.6 -0.4 l1.6 -3.6 l-6.6 0.4 Z" fill="#2f58f0" opacity="0.47"/>
<path d="M60.4 435.4 l8.3 -0.5 l1.6 -3.6 l-8.3 0.5 Z" fill="#2f58f0" opacity="0.79"/>
<path d="M52.2 435.9 l5.6 -0.3 l1.6 -3.6 l-5.6 0.3 Z" fill="#dfe8ff" opacity="0.66"/>
<path d="M43.1 436.4 l6.4 -0.4 l1.6 -3.6 l-6.4 0.4 Z" fill="#2f58f0" opacity="0.73"/>
<path d="M32.1 437.1 l8.4 -0.5 l1.6 -3.6 l-8.4 0.5 Z" fill="#2f58f0" opacity="0.85"/>
<path d="M86.9 440.5 l8.0 -0.5 l1.6 -2.4 l-8.0 0.5 Z" fill="#3b66ff" opacity="0.26"/>
<path d="M76.7 441.1 l7.6 -0.5 l1.6 -2.4 l-7.6 0.5 Z" fill="#3b66ff" opacity="0.40"/>
<path d="M67.7 441.6 l6.4 -0.4 l1.6 -2.4 l-6.4 0.4 Z" fill="#24409e" opacity="0.47"/>
<path d="M58.6 442.2 l6.5 -0.4 l1.6 -2.4 l-6.5 0.4 Z" fill="#24409e" opacity="0.46"/>
<path d="M38.7 443.4 l6.1 -0.4 l1.6 -2.4 l-6.1 0.4 Z" fill="#2f58e0" opacity="0.48"/>
</g></g>
<rect x="0" y="0" width="1024" height="1.3" fill="#6fc3ef" opacity=".85"/>
<rect x="0" y="1.3" width="1024" height="1.5" fill="#2f86ea" opacity=".5"/>
<path d="M560 35 Q570 20 600 18 L640 19 Q655 24 660 35 Z" fill="#5aa0f0" opacity=".55" filter="url(#b2)"/>
<path d="M828 0 L1024 0 L1024 576 L1009 576 L1009 35 L850 35 Q838 20 828 0 Z" fill="url(#gr)" opacity=".0"/>
<rect x="1009" y="30" width="15" height="546" fill="url(#gr)"/>
<g stroke="#8ea2c8" stroke-opacity=".35" stroke-width=".8">
<line x1="1000" y1="-10" x2="940" y2="150"/>
<line x1="1005" y1="4" x2="945" y2="164"/>
<line x1="1010" y1="18" x2="950" y2="178"/>
<line x1="1015" y1="32" x2="955" y2="192"/>
<line x1="1020" y1="46" x2="960" y2="206"/>
<line x1="1025" y1="60" x2="965" y2="220"/>
<line x1="1030" y1="74" x2="970" y2="234"/>
<line x1="1035" y1="88" x2="975" y2="248"/>
<line x1="1040" y1="102" x2="980" y2="262"/>
<line x1="1045" y1="116" x2="985" y2="276"/>
<line x1="1050" y1="130" x2="990" y2="290"/>
<line x1="1055" y1="144" x2="995" y2="304"/>
<line x1="1060" y1="158" x2="1000" y2="318"/>
<line x1="1065" y1="172" x2="1005" y2="332"/>
<line x1="1070" y1="186" x2="1010" y2="346"/>
<line x1="1075" y1="200" x2="1015" y2="360"/>
<line x1="1080" y1="214" x2="1020" y2="374"/>
<line x1="1085" y1="228" x2="1025" y2="388"/>
<line x1="1090" y1="242" x2="1030" y2="402"/>
<line x1="1095" y1="256" x2="1035" y2="416"/>
<line x1="1100" y1="270" x2="1040" y2="430"/>
<line x1="1105" y1="284" x2="1045" y2="444"/>
<line x1="1110" y1="298" x2="1050" y2="458"/>
<line x1="1115" y1="312" x2="1055" y2="472"/>
<line x1="1120" y1="326" x2="1060" y2="486"/>
<line x1="1125" y1="340" x2="1065" y2="500"/>
<line x1="1130" y1="354" x2="1070" y2="514"/>
<line x1="1135" y1="368" x2="1075" y2="528"/>
<line x1="1140" y1="382" x2="1080" y2="542"/>
<line x1="1145" y1="396" x2="1085" y2="556"/>
<line x1="1150" y1="410" x2="1090" y2="570"/>
<line x1="1155" y1="424" x2="1095" y2="584"/>
<line x1="1160" y1="438" x2="1100" y2="598"/>
<line x1="1165" y1="452" x2="1105" y2="612"/>
<line x1="1170" y1="466" x2="1110" y2="626"/>
<line x1="1175" y1="480" x2="1115" y2="640"/>
<line x1="1180" y1="494" x2="1120" y2="654"/>
<line x1="1185" y1="508" x2="1125" y2="668"/>
<line x1="1190" y1="522" x2="1130" y2="682"/>
<line x1="1195" y1="536" x2="1135" y2="696"/>
<line x1="930" y1="0" x2="910" y2="36"/>
<line x1="937" y1="0" x2="917" y2="36"/>
<line x1="944" y1="0" x2="924" y2="36"/>
<line x1="951" y1="0" x2="931" y2="36"/>
<line x1="958" y1="0" x2="938" y2="36"/>
<line x1="965" y1="0" x2="945" y2="36"/>
<line x1="972" y1="0" x2="952" y2="36"/>
<line x1="979" y1="0" x2="959" y2="36"/>
<line x1="986" y1="0" x2="966" y2="36"/>
<line x1="993" y1="0" x2="973" y2="36"/>
<line x1="1000" y1="0" x2="980" y2="36"/>
<line x1="1007" y1="0" x2="987" y2="36"/>
<line x1="1014" y1="0" x2="994" y2="36"/>
<line x1="1021" y1="0" x2="1001" y2="36"/>
<line x1="1028" y1="0" x2="1008" y2="36"/>
<line x1="1035" y1="0" x2="1015" y2="36"/>
<line x1="1042" y1="0" x2="1022" y2="36"/>
<line x1="1049" y1="0" x2="1029" y2="36"/>
</g>
<rect x="167" y="546" width="857" height="23" fill="#0a0f1d"/>
<rect x="167" y="551" width="660" height="18" fill="#101a33" opacity=".8"/>
<path d="M435 552 L466 552 L495 568 L457.5 568 Z" fill="#c4463f"/>
<path d="M491 552 L512 552 L560 568 L537.5 568 Z" fill="#c4463f"/>
<path d="M827 547 L1024 547 L1024 568 L813 568 Z" fill="#343945"/>
<path d="M827 547 L831 547 L817 568 L813 568 Z" fill="#8d93a3"/>
<g stroke="#6b7180" stroke-width="1.6" stroke-opacity=".8">
<line x1="842.0" y1="549" x2="833.0" y2="568"/>
<line x1="855.5" y1="549" x2="847.4" y2="568"/>
<line x1="869.0" y1="549" x2="861.8" y2="568"/>
<line x1="882.5" y1="549" x2="876.2" y2="568"/>
<line x1="896.0" y1="549" x2="890.6" y2="568"/>
<line x1="909.5" y1="549" x2="905.0" y2="568"/>
<line x1="923.0" y1="549" x2="919.4" y2="568"/>
<line x1="936.5" y1="549" x2="933.8" y2="568"/>
<line x1="950.0" y1="549" x2="948.2" y2="568"/>
<line x1="963.5" y1="549" x2="962.6" y2="568"/>
<line x1="977.0" y1="549" x2="977.0" y2="568"/>
<line x1="990.5" y1="549" x2="991.4" y2="568"/>
<line x1="1004.0" y1="549" x2="1005.8" y2="568"/>
<line x1="1017.5" y1="549" x2="1020.2" y2="568"/>
<line x1="1031.0" y1="549" x2="1034.6" y2="568"/>
</g>
<rect x="0" y="568" width="1024" height="8" fill="#1e6ea9"/>
<rect x="0" y="554" width="167" height="15" fill="#16228e"/>
</svg>
<div id="slide" class="abs">
<div class="abs topb"></div><div class="abs title"></div>
<div class="abs logo"></div>
<div class="row hd" style="top:96px;height:46px"></div>
<div class="row r1 r1f" style="top:142px;height:29px"></div>
<div class="row r2" style="top:171px;height:25px"></div>
<div class="row r1" style="top:196px;height:29px"></div>
<div class="row r2" style="top:225px;height:29px"></div>
<div class="row r1" style="top:254px;height:33.5px"></div>
<div class="row r2" style="top:287.5px;height:29.5px"></div>
<div class="vs" style="left:168.3px"></div>
<div class="vs" style="left:337.3px"></div>
<div class="vs" style="left:507.3px"></div>
<div class="vs" style="left:669.8px"></div>
<div class="abs" style="left:0;top:141px;width:839px;height:1.6px;background:rgba(255,255,255,.8)"></div>
<div id="foot" class="abs"></div>
</div>
<svg id="gfx" width="1024" height="576" viewBox="0 0 1024 576">
<g fill="none" stroke="#cfe0f6" stroke-width="1.5" stroke-linecap="round" opacity=".92"><path d="M971.5 61 A17 17 0 0 1 1001 58.5"/><path d="M1003.6 73 A17 17 0 0 1 972.5 77.5"/></g>
<g fill="none" stroke="#f4f8ff" stroke-width="2.3" stroke-linecap="round" stroke-linejoin="round"><path d="M976.5 63.5 q.5 -4 4 -4 q3.6 .3 3.2 3.8 q-.6 3 -3.6 5.6 q-2.6 2.6 -2.2 6"/><circle cx="981.2" cy="75.4" r="3.1" stroke-width="2.1"/><path d="M979.5 71 q2.5 -2.2 7.5 -3.2" stroke-width="1.6"/></g>
<g stroke="#e3edfb" stroke-width="1.5" stroke-linecap="butt" opacity=".85" stroke-dasharray="2.2 .8"><path d="M987 61.5 l11.5 -.8"/><path d="M987.5 64.6 l11.5 -.8"/><path d="M988.5 71.8 l9.5 -.6"/><path d="M989 74.8 l9 -.6"/></g>
<rect x="189.8" y="357" width="5.5" height="160" fill="#aaa9ab"/><rect x="203.2" y="357" width="5.5" height="160" fill="#aaa9ab"/>
<rect x="207.7" y="369.3" width="212" height="27.6" fill="#1b3a70" stroke="#f2f7fb" stroke-opacity=".85" stroke-width="1"/>
<path d="M277.41 489.04 A43 43 0 1 1 304.96 447.02 L292.27 447.58 A30.3 30.3 0 1 0 272.86 477.19 Z" fill="#55a0ba"/>
<path d="M305.00 449.28 A43 43 0 0 1 293.96 477.67 L284.52 469.17 A30.3 30.3 0 0 0 292.30 449.16 Z" fill="#7c9038"/>
<path d="M292.41 479.31 A43 43 0 0 1 278.80 488.48 L273.84 476.79 A30.3 30.3 0 0 0 283.43 470.33 Z" fill="#e89c2c"/>
<g stroke-width="2" fill="none"><path d="M298 425 H322" stroke="#5ba3bd"/><path d="M305 458 H321" stroke="#7e903c"/><path d="M291 484.8 H317" stroke="#e89c2c"/></g>
<circle cx="324" cy="425" r="2.6" fill="#5ba3bd"/><circle cx="322.5" cy="458" r="2.6" fill="#7e903c"/><circle cx="319" cy="484.8" r="2.6" fill="#e89c2c"/>
<g fill="#111"><path d="M241.3 454 L283 453.2 L278.6 464.2 Q262 465.6 245.6 464.2 Z"/><rect x="243.6" y="446.6" width="11.6" height="5.4"/><rect x="247" y="439.2" width="4.4" height="5.2"/><rect x="248" y="434.2" width="2.4" height="4.2"/><rect x="248.6" y="431.8" width="1.2" height="3"/><rect x="258.5" y="442.2" width="3.6" height="3.8"/><rect x="264.2" y="442.2" width="3.6" height="3.8"/><rect x="258.5" y="447.8" width="3.6" height="4.2"/><rect x="264.2" y="447.8" width="3.6" height="4.2"/><rect x="269.8" y="447.8" width="4" height="4.2"/></g><rect x="269.6" y="456.6" width="1.7" height="1.5" fill="#cfd4d6"/><rect x="273.4" y="456.6" width="1.7" height="1.5" fill="#cfd4d6"/>
<g fill="none" stroke="#fff" stroke-opacity=".78" stroke-width="2" stroke-linecap="round"><path d="M850 447 q-5 7 0 14"/><path d="M845.5 443.5 q-8 10.5 0 21"/><path d="M841 441 q-10 13 0 26" stroke-width="1.6"/></g>
<g stroke="#8fb4da" stroke-opacity=".7" stroke-width="1"><line x1="316" y1="520" x2="316" y2="545"/><line x1="411" y1="520" x2="411" y2="545"/></g>
<g fill="none" stroke="#e8f0fa" stroke-width="2.3" stroke-linecap="round" stroke-linejoin="round"><path d="M329 535 q3 -3 6 0 t6 0 l4 -4 l5 5 l12 -11"/><circle cx="338" cy="527" r="2.6" stroke-width="1.8"/><circle cx="348" cy="524" r="3.4" stroke-width="1.8"/></g>
<g opacity=".86">
<circle cx="445.5" cy="531" r="8" fill="#1a5a9c" stroke="#9fc2e6" stroke-width="1"/><path d="M447.8 526.2 h-1.6 q-2 0 -2 2.1 v1.5 h-1.5 v2 h1.5 v5 h2.1 v-5 h1.5 l.3 -2 h-1.8 v-1.2 q0 -.7 .8 -.7 h.9 Z" fill="#d9e7f6"/>
<ellipse cx="523.7" cy="531" rx="9" ry="8" fill="#2d8db6" stroke="#7fc0d8" stroke-width="1"/><path d="M518.5 534.5 q5 2.5 8.5 -1.5 q1.5 -2 1.3 -4 l1.2 -1.2 l-1.5 .3 q-1.6 -1.6 -3.4 -.4 q-1 .9 -.7 2.3 q-3 -.2 -4.8 -2.5 q-1 2 .8 3.5 l-1.3 -.3 q.1 1.8 2 2.4 q-1 .9 -2.1 1.4 Z" fill="#dff1f8"/>
<defs><linearGradient id="ig" x1="0" y1="1" x2="1" y2="0"><stop offset="0" stop-color="#f0a23a"/><stop offset=".5" stop-color="#d8506a"/><stop offset="1" stop-color="#7c4bb8"/></linearGradient></defs>
<ellipse cx="605" cy="531" rx="9" ry="8.2" fill="url(#ig)"/><rect x="600.6" y="526.8" width="8.8" height="8.4" rx="2.4" fill="none" stroke="#f6e6ee" stroke-width="1.2"/><circle cx="605" cy="531" r="2" fill="none" stroke="#f6e6ee" stroke-width="1.1"/>
<ellipse cx="689" cy="531" rx="8.5" ry="8" fill="#c23b33"/><rect x="684.2" y="527.6" width="9.6" height="6.8" rx="2" fill="#f1dedc"/><path d="M687.8 529.2 v3.6 l3 -1.8 Z" fill="#c23b33"/>
<ellipse cx="813.7" cy="531" rx="8.6" ry="7.6" fill="#6fb6cf"/><g fill="none" stroke="#dff0f6" stroke-width=".9"><ellipse cx="813.7" cy="531" rx="4" ry="7.2"/><line x1="805.4" y1="531" x2="822" y2="531"/><line x1="806.5" y1="527.5" x2="821" y2="527.5"/><line x1="806.5" y1="534.5" x2="821" y2="534.5"/></g>
<rect x="897.5" y="526" width="16" height="11" rx="1.2" fill="#e6a73a"/><rect x="900" y="523.2" width="11" height="7.5" fill="#f3e9cf"/><path d="M897.5 528 l8 5 l8 -5 v9 h-16 Z" fill="#eeb448"/>
</g>
</svg>
<span class="t" style="left:195.60px;top:47.25px;font-size:21.2px;color:#f4f8ff;font-weight:700;transform:scaleX(0.8418);-webkit-text-stroke-width:.35px;">IMPOR JAWA TENGAH MENURUT PENGGUNAAN BARANG <span style="color:#f1ec3e">NOVEMBER 2020 (JUTA US$)</span></span>
<span class="t" style="left:639.50px;top:100.30px;font-size:21.5px;color:#1b2a5c;font-weight:700;transform:scaleX(0.9804);-webkit-text-stroke:.3px #1b2a5c;">NILAI IMPOR</span>
<span class="t" style="left:809.80px;top:86.29px;font-size:41px;color:#e6261b;font-weight:700;transform:scaleX(0.9234);-webkit-text-stroke:.5px #e6261b;">712,26</span>
<span class="t" style="left:228.75px;top:148.23px;font-size:14.5px;color:#f2f6ff;font-weight:700;transform:scaleX(0.9015);">BULAN</span>
<span class="t" style="left:385.00px;top:148.23px;font-size:14.5px;color:#f2f6ff;font-weight:700;transform:scaleX(0.9276);">KONSUMSI</span>
<span class="t" style="left:546.00px;top:137.73px;font-size:14.5px;color:#f2f6ff;font-weight:700;transform:scaleX(0.8928);">BAHAN BAKU</span>
<span class="t" style="left:553.75px;top:157.73px;font-size:14.5px;color:#f2f6ff;font-weight:700;transform:scaleX(0.8887);">PENOLONG</span>
<span class="t" style="left:701.00px;top:148.23px;font-size:14.5px;color:#f2f6ff;font-weight:700;transform:scaleX(0.9104);">BARANG MODAL</span>
<span class="t" style="left:878.00px;top:148.23px;font-size:14.5px;color:#f2f6ff;font-weight:700;transform:scaleX(0.9107);">TOTAL IMPOR</span>
<span class="t" style="left:207.50px;top:186.00px;font-size:13px;color:#26262a;font-weight:700;transform:scaleX(0.9141);">NOVEMBER ’19</span>
<span class="t" style="left:213.00px;top:212.75px;font-size:13px;color:#26262a;font-weight:700;transform:scaleX(0.8907);">OKTOBER ’20</span>
<span class="t" style="left:207.50px;top:240.00px;font-size:13px;color:#26262a;font-weight:700;transform:scaleX(0.9141);">NOVEMBER ’20</span>
<span class="t" style="left:405.50px;top:187.16px;font-size:12.8px;color:#26262a;font-weight:700;transform:scaleX(0.9834);">71,70</span>
<span class="t" style="left:571.00px;top:187.16px;font-size:12.8px;color:#26262a;font-weight:700;transform:scaleX(0.9836);">945,61</span>
<span class="t" style="left:737.00px;top:187.16px;font-size:12.8px;color:#26262a;font-weight:700;">149,30</span>
<span class="t" style="left:897.50px;top:187.16px;font-size:12.8px;color:#26262a;font-weight:700;transform:scaleX(0.9934);">1.166,61</span>
<span class="t" style="left:405.00px;top:213.46px;font-size:12.8px;color:#26262a;font-weight:700;">50,62</span>
<span class="t" style="left:571.00px;top:213.46px;font-size:12.8px;color:#26262a;font-weight:700;transform:scaleX(0.9836);">567,05</span>
<span class="t" style="left:740.00px;top:213.46px;font-size:12.8px;color:#26262a;font-weight:700;">53,94</span>
<span class="t" style="left:902.50px;top:213.46px;font-size:12.8px;color:#26262a;font-weight:700;transform:scaleX(0.9836);">671,61</span>
<span class="t" style="left:405.00px;top:241.16px;font-size:12.8px;color:#26262a;font-weight:700;transform:scaleX(0.9834);">64,21</span>
<span class="t" style="left:571.00px;top:241.16px;font-size:12.8px;color:#26262a;font-weight:700;transform:scaleX(0.9836);">585,38</span>
<span class="t" style="left:740.00px;top:241.16px;font-size:12.8px;color:#26262a;font-weight:700;">62,67</span>
<span class="t" style="left:900.50px;top:240.20px;font-size:14.3px;color:#26262a;font-weight:700;transform:scaleX(0.9946);">712,26</span>
<span class="t" style="left:196.00px;top:270.43px;font-size:9.3px;color:#3a3a40;font-weight:400;transform:scaleX(1.0082);"><i>Share</i> November 2020 (%)</span>
<span class="t" style="left:412.00px;top:271.46px;font-size:9.5px;color:#3a3a40;font-weight:400;font-style:italic;transform:scaleX(0.9730);">9,01</span>
<span class="t" style="left:578.00px;top:271.46px;font-size:9.5px;color:#3a3a40;font-weight:400;font-style:italic;transform:scaleX(1.0302);">82,19</span>
<span class="t" style="left:747.00px;top:271.46px;font-size:9.5px;color:#3a3a40;font-weight:400;font-style:italic;transform:scaleX(1.0135);">8,80</span>
<span class="t" style="left:908.00px;top:271.46px;font-size:9.5px;color:#3a3a40;font-weight:400;font-style:italic;transform:scaleX(1.0151);">100,00</span>
<span class="t" style="left:201.00px;top:296.22px;font-size:9.9px;color:#26262a;font-weight:700;transform:scaleX(0.9690);">Perubahan M-to-M (%)</span>
<span class="t" style="left:180.00px;top:309.57px;font-size:7.6px;color:#3a3a40;font-weight:400;transform:scaleX(1.0652);">November 2020 terhadap Oktober 2020</span>
<span class="t" style="left:204.50px;top:327.42px;font-size:9.9px;color:#26262a;font-weight:700;transform:scaleX(0.9193);">Perubahan Y-on-Y (%)</span>
<span class="t" style="left:176.00px;top:340.57px;font-size:7.6px;color:#3a3a40;font-weight:400;transform:scaleX(1.0614);">November 2020 terhadap November 2019</span>
<span class="t" style="left:405.00px;top:301.16px;font-size:12.8px;color:#e03a30;font-weight:700;">26,85</span>
<span class="t" style="left:578.00px;top:301.16px;font-size:12.8px;color:#4a6cc4;font-weight:700;transform:scaleX(0.9831);">3,23</span>
<span class="t" style="left:741.00px;top:301.16px;font-size:12.8px;color:#4a6cc4;font-weight:700;transform:scaleX(0.9678);">16,18</span>
<span class="t" style="left:910.00px;top:301.16px;font-size:12.8px;color:#4a6cc4;font-weight:700;transform:scaleX(0.9630);">6,05</span>
<span class="t" style="left:403.00px;top:332.76px;font-size:12.8px;color:#e03a30;font-weight:700;transform:scaleX(0.9849);">-10.45</span>
<span class="t" style="left:572.50px;top:332.76px;font-size:12.8px;color:#e03a30;font-weight:700;transform:scaleX(0.9780);">-38,09</span>
<span class="t" style="left:738.75px;top:332.76px;font-size:12.8px;color:#e03a30;font-weight:700;transform:scaleX(0.9712);">-58,03</span>
<span class="t" style="left:904.00px;top:332.76px;font-size:12.8px;color:#e03a30;font-weight:700;transform:scaleX(1.0056);">-38,95</span>
<span class="t" style="left:214.50px;top:374.09px;font-size:18.8px;color:#f4f6fa;font-weight:700;transform:scaleX(0.7561);-webkit-text-stroke:.3px #f4f6fa;">JANUARI – NOVEMBER 2020</span>
<span class="t" style="left:329.50px;top:417.05px;font-size:15.3px;color:#5b98ae;font-weight:700;transform:scaleX(0.8260);">Bahan Baku/Penolong, 81,52<span style="font-size:78%">%</span></span>
<span class="t" style="left:331.50px;top:449.85px;font-size:15.3px;color:#77873e;font-weight:700;transform:scaleX(0.8371);">Barang Modal, 10,83<span style="font-size:85%">%</span></span>
<span class="t" style="left:327.50px;top:479.85px;font-size:15.3px;color:#dba047;font-weight:700;transform:scaleX(0.8101);">Konsumsi, 7,65<span style="font-size:78%">%</span></span>
<span class="t" style="left:636.00px;top:377.82px;font-size:21px;color:#1c2d5e;font-weight:700;transform:scaleX(0.7381);-webkit-text-stroke:.35px #1c2d5e;">IMPOR BAHAN BAKU DAN BARANG MODAL</span>
<span class="t" style="left:636.50px;top:401.15px;font-size:16.6px;color:#2e2e30;font-weight:700;transform:scaleX(0.8158);">Menyumbang</span>
<span class="t" style="left:640.50px;top:422.14px;font-size:48.5px;color:#de2a1e;font-weight:700;transform:scaleX(0.8709);">90,99<span style="font-size:74%">%</span></span>
<span class="t" style="left:636.80px;top:472.25px;font-size:16.6px;color:#2e2e30;font-weight:700;transform:scaleX(0.8265);">dari total Impor NOVEMBER 2020</span>
<span class="t" style="left:853.00px;top:440.64px;font-size:27px;color:rgba(255,255,255,.85);font-weight:700;font-style:italic;transform:scaleX(0.6216);-webkit-text-stroke:1.3px rgba(255,255,255,.7);">UpRadio</span>
<span class="t" style="left:897.00px;top:468.07px;font-size:7px;color:rgba(255,255,255,.7);font-weight:700;font-style:italic;transform:scaleX(1.1019);">Online</span>
<span class="t" style="left:18.40px;top:26.21px;font-size:32px;color:#fff;font-weight:700;font-style:italic;transform:scaleX(0.7927);-webkit-text-stroke:1.5px #fff;">PRESS</span>
<span class="t" style="left:18.60px;top:53.51px;font-size:32px;color:#fff;font-weight:700;font-style:italic;transform:scaleX(0.7860);-webkit-text-stroke:1.5px #fff;">RELEASE</span>
<span class="t" style="left:18.00px;top:84.53px;font-size:10px;color:#f3e03c;font-weight:700;font-style:italic;transform:scaleX(0.9594);-webkit-text-stroke:.55px #f3e03c;">BERITA RESMI STATISTIK</span>
<span class="t" style="left:236.00px;top:526.43px;font-size:5.4px;color:#aecae6;font-weight:700;font-style:italic;transform:scaleX(1.0313);">BADAN PUSAT STATISTIK</span>
<span class="t" style="left:240.00px;top:532.93px;font-size:5.4px;color:#aecae6;font-weight:700;font-style:italic;transform:scaleX(0.9836);">PROVINSI JAWA TENGAH</span>
<span class="t" style="left:367.50px;top:523.10px;font-size:5.2px;color:#aecae6;font-weight:700;transform:scaleX(1.1109);">Sensus</span>
<span class="t" style="left:367.50px;top:528.10px;font-size:5.2px;color:#aecae6;font-weight:700;transform:scaleX(1.1364);">Penduduk</span>
<span class="t" style="left:367.50px;top:533.10px;font-size:5.2px;color:#aecae6;font-weight:700;transform:scaleX(1.1691);">2020</span>
<span class="t" style="left:458.00px;top:527.75px;font-size:6.2px;color:#aecae6;font-weight:400;transform:scaleX(1.2317);">/bpsprovjateng</span>
<span class="t" style="left:535.50px;top:527.75px;font-size:6.2px;color:#aecae6;font-weight:400;transform:scaleX(1.2069);">@bpsprovjateng</span>
<span class="t" style="left:616.00px;top:527.75px;font-size:6.2px;color:#aecae6;font-weight:400;transform:scaleX(1.1958);">@bpsprovjateng</span>
<span class="t" style="left:704.50px;top:527.75px;font-size:6.2px;color:#aecae6;font-weight:400;transform:scaleX(1.2199);">BPS Provinsi Jawa Tengah</span>
<span class="t" style="left:827.00px;top:527.75px;font-size:6.2px;color:#aecae6;font-weight:400;transform:scaleX(1.2585);">jateng.bps.go.id</span>
<span class="t" style="left:918.00px;top:527.75px;font-size:6.2px;color:#aecae6;font-weight:400;transform:scaleX(1.2535);">jateng@bps.go.id</span>
<div class="abs" style="left:107.5px;top:29.6px;width:24px;height:6.5px;background:#e2392d;border-radius:1.5px;transform:rotate(-24deg);transform-origin:0 100%"><span style="position:absolute;left:2px;top:1.2px;font-size:3.9px;line-height:1;font-weight:700;font-style:italic;color:#ffd9d0;white-space:nowrap">STREAMING</span></div>
<div class="abs" style="left:110.5px;top:30.5px;width:29px;height:17.5px;background:linear-gradient(180deg,#2f8cf4,#0f58cc);border-radius:2.5px;transform:rotate(-22deg) skewX(-6deg);box-shadow:0 2px 0 #0a3aa0"><span style="position:absolute;left:2.6px;top:2.6px;font-size:13px;line-height:1;font-weight:700;font-style:italic;color:#e9f6ff;white-space:nowrap;transform:scaleX(.82);transform-origin:0 0;-webkit-text-stroke:.5px #e9f6ff">LIVE</span></div>
<svg width="1024" height="576" viewBox="0 0 1024 576"><g fill="none" stroke="#c47230" stroke-width="1.4" stroke-linecap="round" transform="rotate(-8 146 34)"><path d="M143.4 28.5 q3 5.5 0 11"/><path d="M146 26.5 q4.4 7.5 0 15" stroke-opacity=".85"/><path d="M148.6 25 q5.4 9 0 18" stroke-opacity=".55"/></g></svg>

<svg id="person" width="1024" height="576" viewBox="0 0 1024 576">
<defs>
<linearGradient id="skin" x1="0" y1="0" x2="0" y2="1"><stop offset="0" stop-color="#a9846f"/><stop offset=".3" stop-color="#94705c"/><stop offset=".7" stop-color="#83624f"/><stop offset="1" stop-color="#7a5e50"/></linearGradient>
<linearGradient id="shirt" x1="0" y1="0" x2="1" y2="1"><stop offset="0" stop-color="#303338"/><stop offset=".6" stop-color="#33363b"/><stop offset="1" stop-color="#2a2d31"/></linearGradient>
<filter id="pb"><feGaussianBlur stdDeviation=".8"/></filter>
<filter id="pb2"><feGaussianBlur stdDeviation="2.4"/></filter>
<filter id="pb3"><feGaussianBlur stdDeviation="4"/></filter>
<clipPath id="headclip"><path d="M54 382 Q52 350 74 338 Q93 330 112 338 Q134 350 132 384 Q132 414 126 432 Q116 452 93 455 Q72 452 61 432 Q54 412 54 382 Z"/></clipPath>
<clipPath id="pclip"><rect x="-5" y="300" width="300" height="255.6"/></clipPath>
</defs>
<g filter="url(#pb)" clip-path="url(#pclip)">
<!-- chair -->
<path d="M186 452 Q188 449 193 449 L204 450 Q209.5 451 209.5 457 L211 500 L186 478 Z" fill="#3b3e44"/>
<!-- shirt -->
<path d="M-4 442 L30 437 L61 432 L80 452 L108 452 L124 431 L142 437.5 L165 441.5 Q180 445 188 450.5 L203 471 L221 496 L244 521.5 L252 534 L262 580 L-4 580 Z" fill="url(#shirt)"/>
<!-- shirt soft shading -->
<path d="M0 470 Q40 455 70 470 L60 540 L0 540 Z" fill="#2a2c30" opacity=".35" filter="url(#pb3)"/>
<path d="M140 450 Q190 460 225 520 L160 540 Z" fill="#3a3d42" opacity=".4" filter="url(#pb3)"/>
<!-- neck -->
<path d="M72 428 L116 428 L112 456 L101 486 L88 486 L78 456 Z" fill="#5d463b"/>
<path d="M86 480 L101 480 L99 492 L89 492 Z" fill="#6d6a66"/>
<!-- collar -->
<path d="M61 432 L74 437 L90 478 L84 481 L70 470 L56 446 Z" fill="#393c41"/>
<path d="M124 431 L112 440 L100 486 L113 480 L126 494 L131 452 Z" fill="#393c41"/>
<path d="M74 437 L90 478 L84 481" fill="none" stroke="#1f2225" stroke-width="1" opacity=".7"/>
<path d="M112 440 L100 486 L126 494" fill="none" stroke="#1f2225" stroke-width="1" opacity=".7"/>
<path d="M92 492 L97 492 L97 570 L92 570 Z" fill="#26292d"/>
<circle cx="84" cy="506" r="2" fill="#1d1f22"/>
<!-- ears -->
<path d="M55 386 Q45 383 44.5 396 Q46 412 54 418 Z" fill="#7c5c4c"/>
<path d="M131 384 Q138 381 138.5 394 Q137 410 131 416 Z" fill="#6c5043"/>
<!-- hair back -->
<path d="M48 388 Q44 352 66 337 Q93 323 120 337 Q141 352 137 386 L131 388 Q132 360 114 346 Q92 336 70 346 Q55 360 54 390 Z" fill="#2a2523"/>
<!-- head -->
<path d="M54 382 Q52 350 74 338 Q93 330 112 338 Q134 350 132 384 Q132 414 126 432 Q116 452 93 455 Q72 452 61 432 Q54 412 54 382 Z" fill="url(#skin)"/>
<g clip-path="url(#headclip)">
<!-- side shadows -->
<ellipse cx="52" cy="405" rx="10" ry="40" fill="#4a352c" opacity=".7" filter="url(#pb2)"/>
<ellipse cx="134" cy="405" rx="10" ry="42" fill="#40302a" opacity=".8" filter="url(#pb2)"/>
<!-- thin hair top -->
<path d="M54 366 Q60 340 93 330 Q128 338 132 366 Q120 344 93 341 Q68 344 54 366 Z" fill="#2f2826" opacity=".85" filter="url(#pb)"/>
<ellipse cx="93" cy="338" rx="24" ry="6" fill="#3a312d" opacity=".55" filter="url(#pb2)"/>
<!-- forehead light -->
<ellipse cx="93" cy="358" rx="24" ry="11" fill="#c8a590" opacity=".55" filter="url(#pb2)"/>
<ellipse cx="94" cy="344.5" rx="4.2" ry="5.2" fill="#fbf3ee" opacity=".9" filter="url(#pb)"/>
<!-- cheek light -->
<ellipse cx="72" cy="406" rx="9" ry="8" fill="#b08c78" opacity=".5" filter="url(#pb2)"/>
<ellipse cx="113" cy="406" rx="9" ry="8" fill="#a5826e" opacity=".45" filter="url(#pb2)"/>
<!-- beard/chin gray -->
<ellipse cx="93" cy="443" rx="15" ry="9" fill="#968b85" opacity=".55" filter="url(#pb2)"/>
<path d="M58 420 Q66 446 84 453 L70 452 Q58 440 56 424 Z" fill="#463630" opacity=".7" filter="url(#pb2)"/>
<path d="M128 420 Q120 446 102 453 L116 452 Q128 440 130 424 Z" fill="#463630" opacity=".7" filter="url(#pb2)"/>
</g>
<!-- brows -->
<path d="M64 374.5 Q74 368 87 370.5 L87 373.5 Q74 371.5 65 377 Z" fill="#2b2320"/>
<path d="M98 370.5 Q111 368 124 374 L123 376.5 Q111 371.5 98 373.5 Z" fill="#2b2320"/>
<!-- eyes -->
<ellipse cx="74" cy="386.5" rx="6.5" ry="2.3" fill="#2a201d"/>
<ellipse cx="112" cy="386.5" rx="6.5" ry="2.3" fill="#2a201d"/>
<path d="M66 392 Q74 395 82 392" fill="none" stroke="#5b4338" stroke-width="1.4" opacity=".8"/>
<path d="M104 392 Q112 395 120 392" fill="none" stroke="#5b4338" stroke-width="1.4" opacity=".8"/>
<!-- glasses -->
<g fill="none" stroke="#262324" stroke-width="1.8">
<path d="M58 382.5 Q59 380.5 72 381 Q86 380.5 87 383.5 Q87 394.5 73 396 Q60 395.5 58 386.5 Z"/>
<path d="M98 383.5 Q99 380.5 112 381 Q126 380.5 127 382.5 Q127 394.5 112 396 Q99 395.5 98 386.5 Z"/>
<path d="M87 385 Q92.5 382 98 385" stroke-width="1.5"/>
<path d="M58 383.5 L50 386 M127 383.5 L136 385" stroke-width="1.4"/>
</g>
<!-- nose -->
<path d="M89 392 Q87 406 84 411 Q95 419 107 411 Q102 406 99 392 Z" fill="#8e6b58" opacity=".85"/>
<path d="M85 412 Q95 418 106 412 Q99 415.5 95 415 Q91 415.5 85 412 Z" fill="#47322a"/>
<!-- mustache -->
<path d="M76 425 Q81 415.5 93 417.5 Q105 415.5 111 425 Q104 428.5 93 426 Q82 428.5 76 425 Z" fill="#756b67"/>
<!-- mouth -->
<path d="M84 430.5 Q94 427.5 105 430.5 Q94 435.5 84 430.5 Z" fill="#60403a"/>
<!-- shirt badge -->
<g>
<circle cx="11" cy="519" r="2" fill="#3fa0d8"/><circle cx="15" cy="521" r="1.8" fill="#e28a2e"/><circle cx="12" cy="523.5" r="1.8" fill="#d84a4a"/><circle cx="14.5" cy="517" r="1.3" fill="#e8d03a"/>
<rect x="19" y="519.5" width="27" height="1.6" fill="#b9bdc4" opacity=".8" transform="rotate(13 19 519)"/><rect x="19" y="523" width="24" height="1.6" fill="#b9bdc4" opacity=".7" transform="rotate(13 19 523)"/>
</g>
<!-- hand hint -->
<ellipse cx="11.5" cy="554.2" rx="8" ry="2.6" fill="#dcc8c0" opacity=".95"/>
</g>
</svg>

<div id="l3" class="abs"></div><div id="l3b" class="abs"></div>
<span class="t top" style="left:29.50px;top:541.76px;font-size:20.6px;color:#e2edf3;font-weight:700;transform:scaleX(0.8082);-webkit-text-stroke:.4px #e2edf3;">Sentot Bangun Widoyono, M.A</span>
<span class="t top" style="left:96.70px;top:570.83px;font-size:16.5px;color:#2d5c8c;font-weight:400;transform:scaleX(0.7711);">Kepala Badan Pusat Statistik</span>
</div></div></div>
</body>
</html>
